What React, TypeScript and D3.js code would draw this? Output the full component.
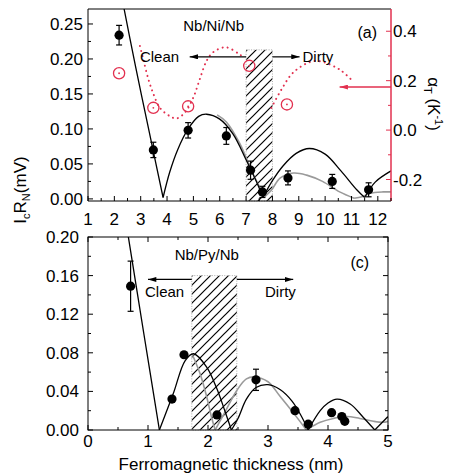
import React from 'react'
import * as d3 from 'd3'

// ---------- panel (a): Nb/Ni/Nb ----------
// [thickness nm, IcRn mV, error]
const niPoints: [number, number, number][] = [
  [2.18, 0.234, 0.014],
  [3.48, 0.07, 0.011],
  [4.8, 0.098, 0.011],
  [6.25, 0.09, 0.012],
  [7.17, 0.041, 0.013],
  [7.62, 0.01, 0.008],
  [8.59, 0.03, 0.01],
  [10.27, 0.025, 0.01],
  [11.65, 0.013, 0.01]
]
// alpha_T open circles [thickness, alpha K^-1]
const niAlpha: [number, number][] = [
  [2.18, 0.23],
  [3.48, 0.09],
  [4.8, 0.096],
  [7.12, 0.26],
  [8.55, 0.104]
]
// fitted curves, split at the cusps
const niBlack: [number, number][][] = [
  [[2.3, 0.285], [2.8, 0.19], [3.3, 0.1], [3.85, 0.002]],
  [[3.85, 0.002], [4.1, 0.038], [4.4, 0.07], [4.8, 0.1], [5.2, 0.118], [5.5, 0.121], [6.0, 0.114], [6.5, 0.093], [7.0, 0.056], [7.4, 0.024], [7.64, 0.002]],
  [[7.64, 0.002], [8.0, 0.026], [8.4, 0.047], [8.9, 0.065], [9.4, 0.072], [10.0, 0.064], [10.6, 0.04], [11.2, 0.013], [11.5, 0.002]],
  [[11.5, 0.002], [11.9, 0.024], [12.5, 0.04]]
]
const niGray: [number, number][][] = [
  [[5.9, 0.12], [6.25, 0.11], [6.75, 0.08], [7.25, 0.037], [7.7, 0.003]],
  [[7.7, 0.003], [7.95, 0.012], [8.3, 0.03], [8.8, 0.037], [9.3, 0.034], [9.9, 0.025], [10.55, 0.01], [11.1, 0.001]],
  [[11.1, 0.001], [11.4, 0.003], [11.7, 0.008], [12.2, 0.01], [12.5, 0.01]]
]
const niAlphaClean: [number, number][] = [
  [2.97, 0.34], [3.09, 0.29], [3.28, 0.21], [3.47, 0.15], [3.73, 0.09], [4.1, 0.057], [4.36, 0.047],
  [4.67, 0.07], [4.99, 0.13], [5.24, 0.205], [5.5, 0.28], [5.75, 0.315], [6.23, 0.335], [6.76, 0.306], [6.95, 0.29]
]
const niAlphaDirty: [number, number][] = [
  [7.96, 0.09], [8.34, 0.164], [8.78, 0.232], [9.41, 0.275], [9.79, 0.279], [10.55, 0.245], [11.05, 0.198]
]
const niHatch = { x0: 7, x1: 8, top: 0.213 }

// ---------- panel (c): Nb/Py/Nb ----------
const pyPoints: [number, number, number][] = [
  [0.71, 0.149, 0.026],
  [1.4, 0.032, 0],
  [1.6, 0.078, 0],
  [2.15, 0.0156, 0],
  [2.8, 0.052, 0.011],
  [3.45, 0.02, 0],
  [3.67, 0.006, 0],
  [4.06, 0.018, 0],
  [4.23, 0.014, 0],
  [4.28, 0.009, 0]
]
const pyBlack: [number, number][][] = [
  [[0.66, 0.205], [0.93, 0.1], [1.19, 0.0]],
  [[1.19, 0.0], [1.42, 0.0375], [1.62, 0.072], [1.76, 0.079], [1.98, 0.065], [2.14, 0.044], [2.28, 0.02], [2.39, 0.0]],
  [[2.39, 0.0], [2.5, 0.012], [2.64, 0.032], [2.8, 0.044], [3.0, 0.047], [3.2, 0.042], [3.4, 0.03], [3.55, 0.015], [3.67, 0.0]],
  [[3.67, 0.0], [3.87, 0.02], [4.0, 0.028], [4.15, 0.032], [4.37, 0.027], [4.59, 0.013], [4.78, 0.0]],
  [[4.78, 0.0], [5.0, 0.014]]
]
const pyGray: [number, number][][] = [
  [[1.74, 0.078], [1.87, 0.058], [1.98, 0.034], [2.06, 0.013], [2.12, 0.0]],
  [[2.12, 0.0], [2.26, 0.016], [2.48, 0.041], [2.64, 0.053], [2.78, 0.055], [3.0, 0.05], [3.2, 0.035], [3.42, 0.018], [3.64, 0.0]],
  [[3.64, 0.0], [3.87, 0.008], [4.09, 0.012], [4.31, 0.014], [4.53, 0.012], [4.76, 0.009], [4.92, 0.008], [5.0, 0.009]]
]
const pyHatch = { x0: 1.73, x1: 2.48, top: 0.16 }

const niYTicks = ['0.00', '0.05', '0.10', '0.15', '0.20', '0.25']
const alphaTicks = ['-0.2', '0.0', '0.2', '0.4']
const pyYTicks = ['0.00', '0.04', '0.08', '0.12', '0.16', '0.20']

const RED = '#e2304f'
const FONT = 'Arial, "Liberation Sans", sans-serif'

const xa = d3.scaleLinear().domain([1, 12.5]).range([88, 391])
const ya = d3.scaleLinear().domain([-0.003, 0.2714]).range([201, 9])
const yr = d3.scaleLinear().domain([-0.287, 0.49]).range([201, 9])
const xc = d3.scaleLinear().domain([0, 5]).range([88, 388])
const yc = d3.scaleLinear().domain([0, 0.2]).range([430, 237])

type S = d3.ScaleLinear<number, number>

const curvePath = (xs: S, ys: S, pts: [number, number][]) =>
  d3.line<[number, number]>().x(d => xs(d[0])).y(d => ys(d[1])).curve(d3.curveCatmullRom.alpha(0.5))(pts) || ''

const Dots = ({ xs, ys, data }: { xs: S; ys: S; data: [number, number, number][] }) => (
  <g>
    {data.map(([x, y, e], i) => (
      <g key={i}>
        {e > 0 && (
          <g stroke="#000" strokeWidth={1.2}>
            <line x1={xs(x)} x2={xs(x)} y1={ys(y - e)} y2={ys(y + e)} />
            <line x1={xs(x) - 3} x2={xs(x) + 3} y1={ys(y - e)} y2={ys(y - e)} />
            <line x1={xs(x) - 3} x2={xs(x) + 3} y1={ys(y + e)} y2={ys(y + e)} />
          </g>
        )}
        <circle cx={xs(x)} cy={ys(y)} r={4.6} fill="#000" />
      </g>
    ))}
  </g>
)

const Hatch = ({ xs, ys, h }: { xs: S; ys: S; h: { x0: number; x1: number; top: number } }) => {
  const x0 = xs(h.x0), x1 = xs(h.x1)
  const y0 = ys(h.top), y1 = ys.range()[0]
  return (
    <g>
      <rect x={x0} y={y0} width={x1 - x0} height={y1 - y0} fill="url(#hatch)" />
      <rect x={x0} y={y0} width={x1 - x0} height={y1 - y0} fill="none" stroke="#aaa" strokeWidth={1} strokeDasharray="1 1.5" />
    </g>
  )
}

const XTicks = ({ xs, y, labelDy, step, dir }: { xs: S; y: number; labelDy: number | null; step: number; dir: number }) => {
  const [d0, d1] = xs.domain()
  const minor = d3.range(Math.ceil(d0 / step) * step, d1 + 1e-9, step)
  return (
    <g>
      {minor.map((v, i) => {
        const major = Math.abs(v - Math.round(v)) < 1e-6
        return <line key={i} x1={xs(v)} x2={xs(v)} y1={y} y2={y + dir * (major ? 5 : 3)} stroke="#000" strokeWidth={1} />
      })}
      {labelDy !== null &&
        xs.ticks(Math.round(d1 - d0)).filter(v => Number.isInteger(v)).map(v => (
          <text key={v} x={xs(v)} y={y + labelDy} textAnchor="middle" fontSize={17}>
            {v}
          </text>
        ))}
    </g>
  )
}

const YTicks = ({ ys, x, labels, dir, color, minorStep, gap }: { ys: S; x: number; labels: string[] | null; dir: number; color: string; minorStep: number; gap: number }) => {
  const [d0, d1] = ys.domain()
  const minor = d3.range(Math.ceil(d0 / minorStep - 1e-9) * minorStep, d1 + 1e-9, minorStep)
  return (
    <g>
      {minor.map((v, i) => {
        const idx = Math.round(v / minorStep)
        const major = idx % 2 === 0
        return <line key={i} x1={x} x2={x + dir * (major ? 5 : 3)} y1={ys(v)} y2={ys(v)} stroke={color} strokeWidth={1} />
      })}
      {labels &&
        labels.map(l => (
          <text key={l} x={dir > 0 ? x - gap : x + gap} y={ys(+l) + 6} textAnchor={dir > 0 ? 'end' : 'start'} fontSize={17}>
            {l}
          </text>
        ))}
    </g>
  )
}

export default function App() {
  return (
    <svg width={451} height={474} style={{ display: 'block', position: 'absolute', left: 0, top: 0 }} fontFamily={FONT}>
      <defs>
        <pattern id="hatch" patternUnits="userSpaceOnUse" width={9} height={9}>
          <rect width={9} height={9} fill="#fff" />
          <path d="M0,9 L9,0 M-2,2 L2,-2 M7,11 L11,7" stroke="#000" strokeWidth={1.2} />
        </pattern>
        <marker id="arrowK" viewBox="0 0 10 6" refX={10} refY={3} markerWidth={9} markerHeight={5} orient="auto" markerUnits="userSpaceOnUse">
          <path d="M0,0 L10,3 L0,6 Z" fill="#000" />
        </marker>
        <marker id="arrowR" viewBox="0 0 10 6" refX={10} refY={3} markerWidth={9} markerHeight={5} orient="auto" markerUnits="userSpaceOnUse">
          <path d="M0,0 L10,3 L0,6 Z" fill={RED} />
        </marker>
        <clipPath id="clipA">
          <rect x={88} y={9} width={303} height={192} />
        </clipPath>
        <clipPath id="clipC">
          <rect x={88} y={237} width={300} height={193} />
        </clipPath>
      </defs>
      <rect width={451} height={474} fill="#fff" />

      {/* ---- panel (a) ---- */}
      <Hatch xs={xa} ys={ya} h={niHatch} />
      <g clipPath="url(#clipA)" fill="none">
        {niGray.map((s, i) => (
          <path key={'g' + i} d={curvePath(xa, ya, s)} stroke="#9a9a9a" strokeWidth={1.6} />
        ))}
        {niBlack.map((s, i) => (
          <path key={'b' + i} d={curvePath(xa, ya, s)} stroke="#000" strokeWidth={1.3} />
        ))}
        {[niAlphaClean, niAlphaDirty].map((s, i) => (
          <path key={'r' + i} d={curvePath(xa, yr, s)} stroke={RED} strokeWidth={2} strokeDasharray="0.1 5" strokeLinecap="round" />
        ))}
      </g>
      <Dots xs={xa} ys={ya} data={niPoints} />
      {niAlpha.map(([x, a], i) => (
        <g key={i}>
          <circle cx={xa(x)} cy={yr(a)} r={5.6} fill="none" stroke={RED} strokeWidth={1.3} />
          <circle cx={xa(x)} cy={yr(a)} r={0.9} fill={RED} />
        </g>
      ))}
      {/* frame */}
      <line x1={88} x2={391} y1={9} y2={9} stroke="#000" />
      <line x1={88} x2={88} y1={9} y2={201} stroke="#000" />
      <line x1={88} x2={391} y1={201} y2={201} stroke="#000" />
      <line x1={391} x2={391} y1={9} y2={201} stroke={RED} strokeWidth={1.5} />
      <XTicks xs={xa} y={201} labelDy={23.5} step={0.5} dir={-1} />
      <YTicks ys={ya} x={88} labels={niYTicks} dir={1} color="#000" minorStep={0.025} gap={5} />
      <YTicks ys={yr} x={391} labels={alphaTicks} dir={-1} color={RED} minorStep={0.1} gap={2} />

      <text x={xa(5.77)} y={ya(0.2476) + 5} textAnchor="middle" fontSize={15}>Nb/Ni/Nb</text>
      <text x={xa(11.6)} y={ya(0.2386) + 6} textAnchor="middle" fontSize={16}>(a)</text>
      <text x={xa(2.97)} y={ya(0.203) + 5} fontSize={15}>Clean</text>
      <line x1={xa(niHatch.x0)} x2={xa(4.86)} y1={ya(0.203)} y2={ya(0.203)} stroke="#000" strokeWidth={1.2} markerEnd="url(#arrowK)" />
      <line x1={xa(niHatch.x1)} x2={xa(9.03)} y1={ya(0.203)} y2={ya(0.203)} stroke="#000" strokeWidth={1.2} markerEnd="url(#arrowK)" />
      <text x={xa(9.14)} y={ya(0.203) + 5} fontSize={15}>Dirty</text>
      <line x1={xa(12.5)} x2={xa(10.55)} y1={yr(0.174)} y2={yr(0.174)} stroke={RED} strokeWidth={1.5} markerEnd="url(#arrowR)" />

      <text transform="translate(428,104) rotate(90)" textAnchor="middle" fontSize={17}>
        α<tspan fontSize={11} dy={4}>T</tspan>
        <tspan dy={-4}> (K</tspan>
        <tspan fontSize={11} dy={-7}>-1</tspan>
        <tspan dy={7}>)</tspan>
      </text>

      {/* ---- panel (c) ---- */}
      <Hatch xs={xc} ys={yc} h={pyHatch} />
      <g clipPath="url(#clipC)" fill="none">
        {pyGray.map((s, i) => (
          <path key={'g' + i} d={curvePath(xc, yc, s)} stroke="#9a9a9a" strokeWidth={1.6} />
        ))}
        {pyBlack.map((s, i) => (
          <path key={'b' + i} d={curvePath(xc, yc, s)} stroke="#000" strokeWidth={1.3} />
        ))}
      </g>
      <Dots xs={xc} ys={yc} data={pyPoints} />
      <rect x={88} y={237} width={300} height={193} fill="none" stroke="#000" />
      <XTicks xs={xc} y={430} labelDy={17} step={0.5} dir={-1} />
      <XTicks xs={xc} y={237} labelDy={null} step={0.5} dir={1} />
      <YTicks ys={yc} x={88} labels={pyYTicks} dir={1} color="#000" minorStep={0.02} gap={9} />
      <YTicks ys={yc} x={388} labels={null} dir={-1} color="#000" minorStep={0.02} gap={0} />

      <text x={xc(1.98)} y={yc(0.181) + 5} textAnchor="middle" fontSize={15}>Nb/Py/Nb</text>
      <text x={xc(4.53)} y={yc(0.174) + 6} textAnchor="middle" fontSize={16}>(c)</text>
      <line x1={xc(pyHatch.x0)} x2={xc(1.0)} y1={yc(0.156)} y2={yc(0.156)} stroke="#000" strokeWidth={1.2} markerEnd="url(#arrowK)" />
      <text x={xc(0.95)} y={yc(0.143) + 5} fontSize={15}>Clean</text>
      <line x1={xc(pyHatch.x1)} x2={xc(3.42)} y1={yc(0.156)} y2={yc(0.156)} stroke="#000" strokeWidth={1.2} markerEnd="url(#arrowK)" />
      <text x={xc(2.95)} y={yc(0.143) + 5} fontSize={15}>Dirty</text>

      <text x={231} y={470} textAnchor="middle" fontSize={17}>Ferromagnetic thickness (nm)</text>

      <text transform="translate(26,190) rotate(-90)" textAnchor="middle" fontSize={17}>
        I<tspan fontSize={11} dy={4}>c</tspan>
        <tspan dy={-4}>R</tspan>
        <tspan fontSize={11} dy={4}>N</tspan>
        <tspan dy={-4}>(mV)</tspan>
      </text>
    </svg>
  )
}
